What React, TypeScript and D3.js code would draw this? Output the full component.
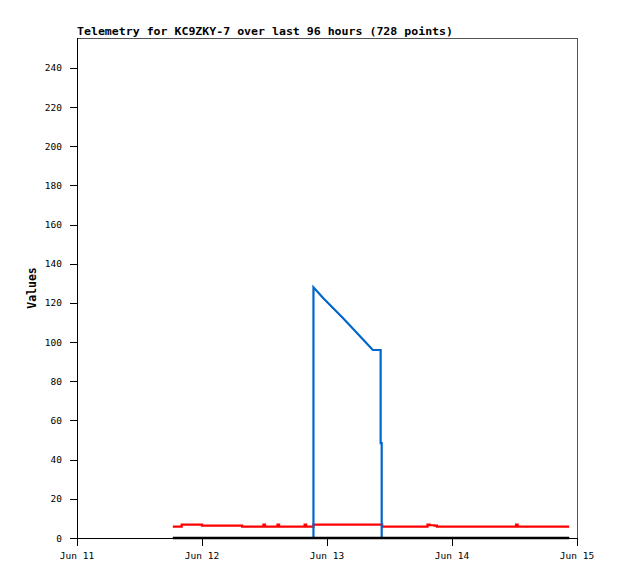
import React from "react";
import * as d3 from "d3";

// Time in hours since Jun 11 00:00
const title = "Telemetry for KC9ZKY-7 over last 96 hours (728 points)";
const yLabel = "Values";
const xTickLabels = ["Jun 11", "Jun 12", "Jun 13", "Jun 14", "Jun 15"];
const xTickHours = [0, 24, 48, 72, 96];
const yTicks = [0, 20, 40, 60, 80, 100, 120, 140, 160, 180, 200, 220, 240];

const redHours = [18.4, 20.1, 24.0, 31.7, 35.8, 36.1, 38.5, 38.8, 43.7, 44.0, 45.4, 58.6, 67.3, 67.7, 68.6, 69.1, 84.3, 84.6, 94.5];
const redValues = [5.8, 6.8, 6.3, 5.8, 6.8, 5.8, 6.8, 5.8, 6.8, 5.8, 6.8, 5.8, 6.8, 6.5, 6.3, 5.8, 6.8, 5.8, 5.8];

const blueHours = [18.4, 45.4, 45.4, 47.3, 51.1, 54.7, 56.8, 58.3, 58.3, 58.5, 58.5, 94.5];
const blueValues = [0, 0, 128, 122.4, 112.2, 102, 96, 96, 48.4, 48.4, 0, 0];

const blackHours = [18.4, 94.5];
const blackValues = [0, 0];

export default function App() {
  const W = 618, H = 579;
  const left = 77, right = 577, top = 38, bottom = 538;
  const x = d3.scaleLinear().domain([0, 96]).range([left, right]);
  const y = d3.scaleLinear().domain([0, 255.3]).range([bottom, top]);

  const mk = (hs: number[], vs: number[]) => hs.map((h, i) => [h, vs[i]] as [number, number]);
  const stepLine = d3.line<[number, number]>().x(d => x(d[0])).y(d => y(d[1])).curve(d3.curveStepAfter);
  const linLine = d3.line<[number, number]>().x(d => x(d[0])).y(d => y(d[1]));

  const mono = "'DejaVu Sans Mono', 'Liberation Mono', monospace";

  return (
    <svg width={W} height={H} style={{ position: "absolute", left: 0, top: 0, background: "#fff" }}>
      <rect x={0} y={0} width={W} height={H} fill="#fff" />
      <text x={left} y={35} fontFamily={mono} fontSize={11} fontWeight="bold" textLength={376} lengthAdjust="spacingAndGlyphs" fill="#000">{title}</text>
      <rect x={left + 0.5} y={top + 0.5} width={right - left} height={bottom - top} fill="none" stroke="#555" strokeWidth={1} />
      {/* y axis */}
      <line x1={left + 0.5} y1={top} x2={left + 0.5} y2={bottom + 1} stroke="#000" />
      {yTicks.map(t => (
        <g key={t}>
          <line x1={70} x2={left} y1={Math.round(y(t)) + 0.5} y2={Math.round(y(t)) + 0.5} stroke="#000" />
          <text x={62} y={y(t) + 3.5} textAnchor="end" fontFamily={mono} fontSize={9.5} fill="#000">{t}</text>
        </g>
      ))}
      {/* x axis */}
      <line x1={left} y1={bottom + 0.5} x2={right + 1} y2={bottom + 0.5} stroke="#000" />
      {xTickHours.map((h, i) => (
        <g key={h}>
          <line x1={Math.round(x(h)) + 0.5} x2={Math.round(x(h)) + 0.5} y1={bottom} y2={bottom + 8} stroke="#000" />
          <text x={x(h)} y={559} textAnchor="middle" fontFamily={mono} fontSize={9.5} fill="#000">{xTickLabels[i]}</text>
        </g>
      ))}
      <text transform={`translate(36,${(top + bottom) / 2}) rotate(-90)`} textAnchor="middle" fontFamily={mono} fontSize={11.5} fontWeight="bold" fill="#000">{yLabel}</text>
      {/* series */}
      <path d={stepLine(mk(redHours, redValues)) || ""} fill="none" stroke="#ff0000" strokeWidth={2.2} />
      <path d={linLine(mk(blueHours, blueValues)) || ""} fill="none" stroke="#0066cc" strokeWidth={2.2} />
      <path d={linLine(mk(blackHours, blackValues)) || ""} fill="none" stroke="#000" strokeWidth={2.5} />
    </svg>
  );
}
